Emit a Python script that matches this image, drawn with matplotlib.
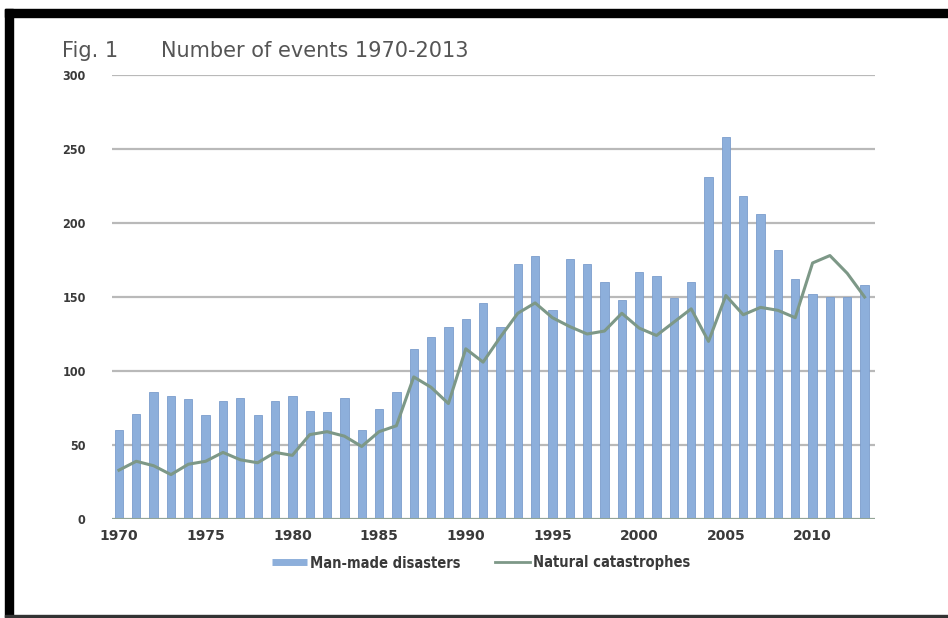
import numpy as np
import matplotlib
matplotlib.use("Agg")
import matplotlib.pyplot as plt
from matplotlib.patches import Rectangle
from matplotlib.lines import Line2D

# Years and number of events per year
years = list(range(1970, 2014))
man_made = [60, 71, 86, 83, 81, 70, 80, 82, 70, 80,
            83, 73, 72, 82, 60, 74, 86, 115, 123, 130,
            135, 146, 130, 172, 178, 141, 176, 172, 160, 148,
            167, 164, 149, 160, 231, 258, 218, 206, 182, 162,
            152, 150, 150, 158]
natural = [33, 39, 36, 30, 37, 39, 45, 40, 38, 45,
           43, 57, 59, 56, 49, 59, 63, 96, 89, 78,
           115, 106, 123, 139, 146, 136, 130, 125, 127, 139,
           129, 124, 133, 142, 120, 151, 138, 143, 141, 136,
           173, 178, 166, 150]
y_ticks = [0, 50, 100, 150, 200, 250, 300]
x_ticks = [1970, 1975, 1980, 1985, 1990, 1995, 2000, 2005, 2010]

bar_color = "#8dafdb"
line_color = "#7d9887"
grid_color = "#b9b9b9"
text_color = "#3a3a3a"

plt.rcParams['font.family'] = ['DejaVu Sans']

fig = plt.figure(figsize=(9.48, 6.18), dpi=100)
fig.patch.set_facecolor("white")

# Black frame around the figure (top, left, bottom)
W, H = 948.0, 618.0
def px_rect(x0, y0, x1, y1, color):
    fig.patches.append(Rectangle((x0 / W, 1 - y1 / H), (x1 - x0) / W, (y1 - y0) / H,
                                 transform=fig.transFigure, color=color, zorder=0))
px_rect(5, 9, 948, 17, "black")
px_rect(5, 9, 13, 617, "black")
px_rect(5, 615, 948, 618, "#333333")

ax = fig.add_axes([112 / W, 1 - 519 / H, (875 - 112) / W, (519 - 75) / H])
ax.bar(years, man_made, width=0.48, color=bar_color, edgecolor="#7b9dcc",
       linewidth=0.6, zorder=2, label="Man-made disasters")
ax.plot(years, natural, color=line_color, linewidth=2.2, zorder=3,
        label="Natural catastrophes")

ax.set_xlim(1969.6, 2013.6)
ax.set_ylim(0, 300)
ax.set_yticks(y_ticks)
ax.set_xticks(x_ticks)
ax.yaxis.grid(True, color=grid_color, linewidth=1.6, zorder=1)
ax.axhline(0, color="#93a596", linewidth=2.2, zorder=4)
for s in ax.spines.values():
    s.set_visible(False)
ax.tick_params(axis="both", length=0, colors=text_color)
ax.tick_params(axis="y", pad=19, labelsize=9)
ax.tick_params(axis="x", pad=7, labelsize=10)
for lab in ax.get_yticklabels():
    lab.set_fontweight("bold")
    lab.set_fontstretch("condensed")
for lab in ax.get_xticklabels():
    lab.set_fontweight("bold")

fig.text(62 / W, 1 - 51 / H, "Fig. 1", fontsize=15, color="#555555", va="center")
fig.text(161 / W, 1 - 51 / H, "Number of events 1970-2013", fontsize=15,
         color="#555555", va="center")

handles = [Line2D([], [], color=bar_color, linewidth=5, solid_capstyle="butt"),
           Line2D([], [], color=line_color, linewidth=2)]
fig.legend(handles, ["Man-made disasters", "Natural catastrophes"],
           loc="center", bbox_to_anchor=(481 / W, 1 - 563 / H), ncol=2,
           frameon=False, handlelength=2.4, handletextpad=0.2,
           columnspacing=2.4, labelcolor=text_color,
           prop={"weight": "bold", "size": 10.5, "stretch": "condensed"})

fig.savefig("out.png", dpi=100)
